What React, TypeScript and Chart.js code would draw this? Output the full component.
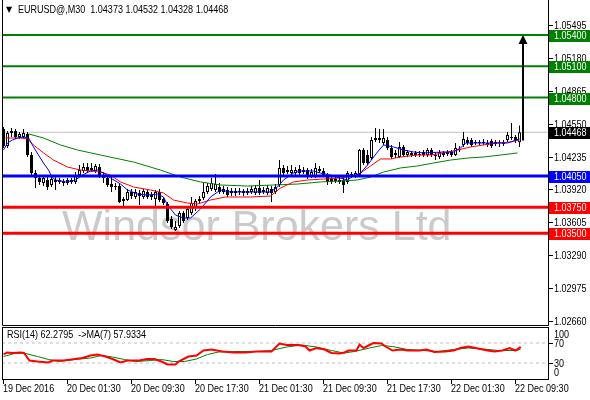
import React, { useEffect, useRef } from 'react';
import { Chart, registerables } from 'chart.js';

Chart.register(...registerables);

const symbolName = 'EURUSD@';
const periodName = 'M30';
const watermarkText = 'Windsor Brokers Ltd';

const xTickBars = [0, 16, 32, 48, 64, 80, 96, 112, 128];
const xTickLabels = ['19 Dec 2016', '20 Dec 01:30', '20 Dec 09:30', '20 Dec 17:30', '21 Dec 01:30', '21 Dec 09:30', '21 Dec 17:30', '22 Dec 01:30', '22 Dec 09:30'];

const priceTicks = [1.05495, 1.0518, 1.04865, 1.0455, 1.04235, 1.0392, 1.03605, 1.0329, 1.02975, 1.0266];
const priceMin = 1.02622;
const priceMax = 1.05706;

const opens = [
  1.04499, 1.04337, 1.04461, 1.0448, 1.04423, 1.04423, 1.04452, 1.0425, 1.04077, 1.0403,
  1.03982, 1.04011, 1.03963, 1.04011, 1.03992, 1.04001, 1.03982, 1.04011, 1.03992, 1.04058,
  1.04097, 1.04135, 1.04106, 1.04097, 1.04135, 1.04049, 1.0403, 1.03972, 1.03944, 1.03953,
  1.0381, 1.03819, 1.03896, 1.03848, 1.03886, 1.03848, 1.03896, 1.03848, 1.03829, 1.03896,
  1.03829, 1.03781, 1.03637, 1.03532, 1.0357, 1.03695, 1.03647, 1.03695, 1.03743, 1.0381,
  1.03838, 1.03896, 1.03924, 1.03915, 1.03944, 1.03896, 1.03915, 1.03886, 1.03905, 1.03896,
  1.03905, 1.03886, 1.03896, 1.03886, 1.03934, 1.03896, 1.03886, 1.03924, 1.03896, 1.03963,
  1.04126, 1.04087, 1.04077, 1.04077, 1.04116, 1.04087, 1.04106, 1.04039, 1.04039, 1.04116,
  1.04097, 1.04058, 1.0403, 1.04001, 1.04011, 1.04011, 1.03992, 1.04068, 1.04049, 1.04058,
  1.04298, 1.0425, 1.04221, 1.04394, 1.04413, 1.04365, 1.04394, 1.04317, 1.0427, 1.04231,
  1.04327, 1.0425, 1.0427, 1.0425, 1.0426, 1.04279, 1.0425, 1.04298, 1.0425, 1.04231,
  1.0427, 1.0426, 1.04279, 1.0425, 1.04308, 1.04346, 1.04394, 1.04394, 1.04365, 1.04375,
  1.04365, 1.04365, 1.04385, 1.04356, 1.04375, 1.04365, 1.04394, 1.04423, 1.04423, 1.04373,
];
const highs = [
  1.04519, 1.0448, 1.04509, 1.04499, 1.04471, 1.04499, 1.04471, 1.04279, 1.04106, 1.04058,
  1.04049, 1.04039, 1.04058, 1.04039, 1.0403, 1.0402, 1.0403, 1.0403, 1.04087, 1.04154,
  1.04173, 1.04173, 1.04173, 1.04164, 1.04164, 1.04087, 1.04049, 1.04039, 1.03982, 1.03972,
  1.03848, 1.03924, 1.03924, 1.03924, 1.03915, 1.03924, 1.03915, 1.03896, 1.03915, 1.03924,
  1.03848, 1.038, 1.03666, 1.03618, 1.03714, 1.03714, 1.03752, 1.03848, 1.03829, 1.03857,
  1.03982, 1.03982, 1.0403, 1.04068, 1.03982, 1.03953, 1.03944, 1.03934, 1.03934, 1.03934,
  1.03924, 1.03934, 1.03953, 1.03963, 1.04011, 1.03944, 1.03963, 1.03953, 1.03972, 1.04202,
  1.04154, 1.04145, 1.04154, 1.04135, 1.04154, 1.04135, 1.04126, 1.04116, 1.04173, 1.04145,
  1.04126, 1.04077, 1.04058, 1.04039, 1.0403, 1.0403, 1.04097, 1.04087, 1.04097, 1.04308,
  1.04317, 1.04298, 1.04423, 1.04509, 1.04499, 1.04499, 1.04423, 1.04346, 1.04298, 1.04375,
  1.04346, 1.04298, 1.04289, 1.04289, 1.04289, 1.04298, 1.04317, 1.04317, 1.04279, 1.04298,
  1.04289, 1.04298, 1.04298, 1.04365, 1.04337, 1.04471, 1.04423, 1.04413, 1.04394, 1.04394,
  1.04404, 1.04394, 1.04404, 1.04394, 1.04394, 1.04394, 1.04471, 1.04557, 1.04442, 1.04532,
];
const lows = [
  1.04317, 1.04317, 1.04423, 1.04404, 1.04404, 1.04413, 1.04231, 1.04058, 1.03934, 1.03963,
  1.03953, 1.03915, 1.03944, 1.03915, 1.03972, 1.03953, 1.03963, 1.03972, 1.03972, 1.04039,
  1.04077, 1.04077, 1.04087, 1.04077, 1.0403, 1.03982, 1.03944, 1.03896, 1.03915, 1.0379,
  1.03752, 1.0381, 1.03829, 1.03829, 1.03771, 1.03829, 1.03829, 1.03819, 1.03743, 1.038,
  1.03771, 1.03599, 1.03541, 1.03522, 1.03551, 1.03599, 1.03627, 1.03675, 1.03714, 1.03781,
  1.03819, 1.03876, 1.03905, 1.03896, 1.03876, 1.03876, 1.03848, 1.03857, 1.03857, 1.03867,
  1.03857, 1.03867, 1.03876, 1.03867, 1.03867, 1.03876, 1.03867, 1.038, 1.03876, 1.03944,
  1.04058, 1.04068, 1.04058, 1.04058, 1.04058, 1.04068, 1.0402, 1.0403, 1.0403, 1.04077,
  1.04039, 1.03963, 1.03972, 1.03982, 1.03972, 1.03886, 1.03972, 1.0403, 1.0403, 1.04049,
  1.04154, 1.04154, 1.04202, 1.04375, 1.04365, 1.04346, 1.04298, 1.04212, 1.04221, 1.04221,
  1.04231, 1.04231, 1.04231, 1.04231, 1.04231, 1.04231, 1.04231, 1.04231, 1.04202, 1.04212,
  1.04231, 1.04241, 1.04231, 1.04241, 1.04279, 1.04327, 1.04346, 1.04327, 1.04346, 1.04346,
  1.04346, 1.04327, 1.04317, 1.04337, 1.04327, 1.04337, 1.04375, 1.04394, 1.04365, 1.04328,
];
const closes = [
  1.04337, 1.04461, 1.0448, 1.04423, 1.04452, 1.04461, 1.0425, 1.04077, 1.0403, 1.03992,
  1.0403, 1.03944, 1.0402, 1.03992, 1.04011, 1.03982, 1.04011, 1.03992, 1.04058, 1.04106,
  1.04135, 1.04097, 1.04126, 1.04145, 1.04039, 1.0403, 1.03963, 1.03944, 1.03953, 1.038,
  1.03829, 1.03896, 1.03857, 1.03896, 1.03857, 1.03905, 1.03848, 1.03867, 1.03896, 1.03819,
  1.0379, 1.03618, 1.0356, 1.0356, 1.03695, 1.03618, 1.03733, 1.0379, 1.0381, 1.03829,
  1.03896, 1.03953, 1.03982, 1.03972, 1.03896, 1.03924, 1.03867, 1.03905, 1.03886, 1.03905,
  1.03886, 1.03905, 1.03924, 1.03934, 1.03886, 1.03915, 1.03934, 1.03886, 1.03944, 1.04126,
  1.04077, 1.04106, 1.04106, 1.04106, 1.04077, 1.04106, 1.04039, 1.04087, 1.04126, 1.04097,
  1.04058, 1.03992, 1.03992, 1.0402, 1.03992, 1.03963, 1.04077, 1.04049, 1.04077, 1.04298,
  1.04173, 1.04173, 1.04394, 1.04413, 1.04394, 1.04413, 1.04317, 1.04231, 1.0425, 1.04327,
  1.0425, 1.04279, 1.0425, 1.0427, 1.0425, 1.0425, 1.04298, 1.0425, 1.04241, 1.04279,
  1.0425, 1.04279, 1.0425, 1.04317, 1.04298, 1.04404, 1.04365, 1.04346, 1.04375, 1.04365,
  1.04375, 1.04346, 1.04337, 1.04375, 1.04365, 1.04356, 1.04442, 1.04413, 1.04394, 1.04468,
];

// moving averages: [bar, price]
const maFast: [number, number][] = [
  [0, 1.04298], [1, 1.04365], [2.25, 1.04394], [3.5, 1.04413], [5, 1.04423], [6.25, 1.04413], [7.5, 1.04327],
  [8.75, 1.0425], [10, 1.04173], [11.25, 1.04106], [12.25, 1.0403], [13, 1.04011], [15.5, 1.03992], [18, 1.04011],
  [19.75, 1.04058], [21.75, 1.04097], [23.5, 1.04106], [25, 1.04077], [26.75, 1.0403], [29.25, 1.03972],
  [31, 1.03915], [33.5, 1.03876], [36, 1.03867], [38.5, 1.03876], [40, 1.03848], [41, 1.03771], [43, 1.03675],
  [45, 1.03647], [46.75, 1.03647], [49.25, 1.03733], [51.75, 1.03848], [54.25, 1.03915], [56.75, 1.03896],
  [65, 1.03896], [66.75, 1.03896], [68.5, 1.03944], [70, 1.04011], [72.5, 1.04077], [74.25, 1.04097],
  [77.5, 1.04097], [79.25, 1.04077], [81.75, 1.04058], [84.25, 1.0403], [86, 1.04011], [87.5, 1.04049],
  [89.25, 1.04077], [91, 1.04154], [93.5, 1.04279], [95, 1.04346], [97.5, 1.04327], [100, 1.04298],
  [102.5, 1.04279], [105, 1.0427], [110, 1.04279], [112.5, 1.04279], [114.25, 1.04317], [115.5, 1.04365],
  [121.75, 1.04365], [126, 1.04365], [129, 1.04404],
];
const maMedium: [number, number][] = [
  [0.5, 1.04413], [4.25, 1.04413], [6, 1.04404], [7.5, 1.04346], [10, 1.0427], [12.5, 1.04202], [16, 1.04135],
  [19.25, 1.04106], [24.25, 1.04087], [26.75, 1.04058], [29.25, 1.03992], [32.5, 1.03944], [36.75, 1.03915],
  [40, 1.03886], [42.5, 1.03819], [46, 1.0379], [48.5, 1.03781], [51.75, 1.03819], [55.5, 1.03848],
  [61.75, 1.03848], [66.75, 1.03857], [69.25, 1.03934], [72.5, 1.03992], [76, 1.04011], [80, 1.0402],
  [84.25, 1.0403], [87.5, 1.04049], [89.25, 1.04077], [91.75, 1.04145], [94.25, 1.04212], [96.75, 1.04212],
  [99.25, 1.04231], [103.5, 1.0425], [106.75, 1.0425], [110, 1.0427], [113.5, 1.04298], [116.75, 1.04327],
  [120, 1.04346], [123.5, 1.04365], [126.75, 1.04375], [129, 1.04394],
];
const maSlow: [number, number][] = [
  [6.25, 1.04452], [10, 1.04413], [14.25, 1.04346], [18.5, 1.04298], [24.25, 1.0425], [32.5, 1.04183],
  [39.25, 1.04106], [44.25, 1.04039], [49.25, 1.03992], [54.25, 1.03963], [61, 1.03953], [67.5, 1.03963],
  [73.5, 1.03972], [79.25, 1.03992], [84.25, 1.04001], [88.5, 1.04011], [91.75, 1.04039], [95, 1.04087],
  [99.25, 1.04126], [103.5, 1.04145], [107.5, 1.04173], [111.75, 1.04202], [116, 1.04221], [120, 1.04231],
  [124.25, 1.0425], [128.5, 1.0427],
];

const levelPrices = [1.054, 1.051, 1.048, 1.0405, 1.0375, 1.035];
const levelColors = ['#008000', '#008000', '#008000', '#0000ff', '#ff0000', '#ff0000'];
const levelWidths = [2, 2, 2, 3, 3, 3];
const bidPrice = 1.04468;

const arrowBar = 129.8;
const arrowFromPrice = 1.0439;
const arrowToPrice = 1.054;

const rsiCurrent = 62.2795;
const rsiMaCurrent = 57.9334;
const rsiLevels = [70, 30];
const rsiAxisLabels = [100, 70, 30, 0];
const rsiLine: [number, number][] = [
  [0, 47], [0.9, 51], [2.25, 50], [4.25, 51], [5.1, 50], [6.5, 35], [8.5, 33], [11.25, 31], [12.25, 35],
  [15, 35], [17, 37], [19.75, 40], [21.75, 45], [23.5, 47], [25.5, 43], [27.25, 38], [29.25, 31], [31, 35],
  [34, 35], [35.75, 38], [37.75, 38], [39.5, 33], [41, 27], [43, 27], [43.75, 33], [46.25, 43], [48.25, 45],
  [50, 55], [52, 57], [54.75, 53], [57.5, 51], [60.5, 51], [63.25, 53], [67, 53], [69, 69], [70.75, 66],
  [73.75, 66], [75.5, 63], [76.5, 55], [78.25, 60], [80.25, 57], [82, 50], [84, 49], [85.25, 51], [86.25, 55],
  [88.25, 55], [89, 67], [90, 60], [92.5, 70], [94.5, 69], [95.5, 63], [97.25, 55], [99.25, 57], [101, 55],
  [104, 55], [105.75, 57], [107.75, 52], [110.5, 53], [112.5, 55], [114.25, 60], [116.25, 63], [118, 60],
  [121, 55], [122.75, 53], [124.75, 55], [126.5, 60], [128, 55], [129.3, rsiCurrent],
];
const rsiMaLine: [number, number][] = [
  [0, 43], [2.75, 49], [5.1, 50], [8.5, 43], [11.25, 37], [14, 33], [17.75, 37], [21.75, 40], [24.5, 45],
  [27.25, 42], [30.25, 37], [33, 33], [36.75, 35], [39.5, 37], [42.5, 33], [45.25, 33], [48.25, 38], [51, 47],
  [53.75, 52], [57.5, 53], [63.25, 53], [67, 55], [70.75, 62], [74.5, 66], [78.25, 62], [82, 55], [85, 50],
  [87.75, 53], [91.5, 60], [94.5, 65], [97.25, 63], [101, 57], [104.75, 55], [108.5, 53], [112.5, 57],
  [116.25, 60], [120, 58], [123.75, 55], [128.5, 55], [129.3, rsiMaCurrent],
];

const X_MIN = -0.375;
const X_MAX = 136.125;
const FONT = '11px "Liberation Sans", Arial, sans-serif';
const NARROW = 0.82;

const toPts = (arr: [number, number][]) => arr.map(([x, y]) => ({ x, y }));

function narrowText(ctx: CanvasRenderingContext2D, text: string, x: number, y: number) {
  ctx.save();
  ctx.translate(x, y);
  ctx.scale(NARROW, 1);
  ctx.fillText(text, 0, 0);
  ctx.restore();
}

export default function App() {
  const mainRef = useRef<HTMLCanvasElement>(null);
  const rsiRef = useRef<HTMLCanvasElement>(null);

  useEffect(() => {
    const bars = opens.map((_, i) => i);
    const wickData = bars.map((i) => ({ x: i, y: [lows[i], highs[i]] }));
    const bodyData = bars.map((i) => ({ x: i, y: [opens[i], closes[i]] }));
    const bodyColors = bars.map((i) => (closes[i] >= opens[i] ? '#ffffff' : '#000000'));
    const last = opens.length - 1;

    const mainPlugin = {
      id: 'mt4Main',
      beforeDatasetsDraw(chart: any) {
        const { ctx } = chart;
        ctx.save();
        ctx.font = '43px "Liberation Sans", Arial, sans-serif';
        ctx.fillStyle = '#cacaca';
        ctx.textAlign = 'left';
        ctx.textBaseline = 'alphabetic';
        ctx.fillText(watermarkText, 62, 240);
        ctx.restore();
      },
      afterDatasetsDraw(chart: any) {
        const { ctx, chartArea, scales } = chart;
        const xs = scales.x;
        const ys = scales.y;
        ctx.save();
        // arrow
        const ax = Math.round(xs.getPixelForValue(arrowBar));
        const y0 = ys.getPixelForValue(arrowFromPrice);
        const y1 = ys.getPixelForValue(arrowToPrice);
        ctx.strokeStyle = '#000';
        ctx.lineWidth = 2;
        ctx.beginPath();
        ctx.moveTo(ax, y0);
        ctx.lineTo(ax, y1 + 8);
        ctx.stroke();
        ctx.fillStyle = '#000';
        ctx.beginPath();
        ctx.moveTo(ax, y1);
        ctx.lineTo(ax - 4.5, y1 + 9);
        ctx.lineTo(ax + 4.5, y1 + 9);
        ctx.closePath();
        ctx.fill();
        // frame
        ctx.lineWidth = 1;
        ctx.beginPath();
        ctx.moveTo(chartArea.left + 0.5, 0);
        ctx.lineTo(chartArea.left + 0.5, chartArea.bottom + 0.5);
        ctx.lineTo(chartArea.right + 0.5, chartArea.bottom + 0.5);
        ctx.lineTo(chartArea.right + 0.5, 0);
        ctx.stroke();
        // price ticks
        ctx.font = FONT;
        ctx.textAlign = 'left';
        ctx.textBaseline = 'middle';
        priceTicks.forEach((v) => {
          const y = Math.round(ys.getPixelForValue(v)) + 0.5;
          ctx.strokeStyle = '#000';
          ctx.beginPath();
          ctx.moveTo(chartArea.right + 1, y);
          ctx.lineTo(chartArea.right + 5, y);
          ctx.stroke();
          ctx.fillStyle = '#000';
          narrowText(ctx, v.toFixed(5), chartArea.right + 6, y);
        });
        // level labels
        const boxes = [{ p: bidPrice, c: '#000000' }, ...levelPrices.map((p, i) => ({ p, c: levelColors[i] }))];
        boxes.forEach((b) => {
          const y = Math.round(ys.getPixelForValue(b.p));
          ctx.fillStyle = b.c;
          ctx.fillRect(chartArea.right + 1, y - 5, chart.width - chartArea.right - 1, 12);
          ctx.fillStyle = '#ffffff';
          narrowText(ctx, b.p.toFixed(5), chartArea.right + 6, y + 1);
        });
        // title
        ctx.fillStyle = '#000';
        ctx.font = '8px "DejaVu Sans", sans-serif';
        ctx.fillText('\u25BC', chartArea.left + 4, 10);
        ctx.font = FONT;
        const title = `${symbolName},${periodName}  ${opens[last].toFixed(5)} ${highs[last].toFixed(5)} ${lows[last].toFixed(5)} ${closes[last].toFixed(5)}`;
        narrowText(ctx, title, chartArea.left + 16, 10);
        ctx.restore();
      },
    };

    const levelDatasets = levelPrices.map((p, i) => ({
      type: 'line' as const,
      data: [{ x: X_MIN, y: p }, { x: X_MAX, y: p }],
      borderColor: levelColors[i],
      borderWidth: levelWidths[i],
      pointRadius: 0,
      order: 1,
    }));

    const mainChart = new Chart(mainRef.current!, {
      type: 'bar',
      data: {
        datasets: [
          ...levelDatasets,
          { type: 'line', data: toPts(maFast), borderColor: '#0000ff', borderWidth: 1, pointRadius: 0, order: 2 },
          { type: 'line', data: toPts(maMedium), borderColor: '#ff0000', borderWidth: 1, pointRadius: 0, order: 3 },
          { type: 'line', data: toPts(maSlow), borderColor: '#008000', borderWidth: 1, pointRadius: 0, order: 4 },
          {
            type: 'bar', data: bodyData as any, backgroundColor: bodyColors, borderColor: '#000000', borderWidth: 1,
            borderSkipped: false, barThickness: 3, grouped: false, minBarLength: 1, inflateAmount: 0, order: 5,
          } as any,
          {
            type: 'bar', data: wickData as any, backgroundColor: '#000000', borderWidth: 0,
            barThickness: 1, grouped: false, inflateAmount: 0, order: 6,
          } as any,
          {
            type: 'line', data: [{ x: X_MIN, y: bidPrice }, { x: X_MAX, y: bidPrice }], borderColor: '#c0c0c0',
            borderWidth: 1, pointRadius: 0, order: 7,
          },
        ] as any,
      },
      options: {
        responsive: false,
        animation: false,
        events: [],
        layout: { padding: { left: 2, right: 42, top: 3, bottom: 5 } },
        plugins: { legend: { display: false }, tooltip: { enabled: false } },
        scales: {
          x: { type: 'linear', min: X_MIN, max: X_MAX, display: false, offset: false },
          y: { type: 'linear', min: priceMin, max: priceMax, display: false },
        },
      },
      plugins: [mainPlugin],
    });

    const rsiPlugin = {
      id: 'mt4Rsi',
      afterDatasetsDraw(chart: any) {
        const { ctx, chartArea, scales } = chart;
        const xs = scales.x;
        const ys = scales.y;
        ctx.save();
        ctx.strokeStyle = '#000';
        ctx.lineWidth = 1;
        ctx.strokeRect(chartArea.left + 0.5, chartArea.top + 0.5, chartArea.right - chartArea.left, chartArea.bottom - chartArea.top);
        ctx.font = FONT;
        ctx.fillStyle = '#000';
        ctx.textBaseline = 'middle';
        ctx.textAlign = 'left';
        narrowText(ctx, `RSI(14) ${rsiCurrent.toFixed(4)}  ->MA(7) ${rsiMaCurrent.toFixed(4)}`, chartArea.left + 5, chartArea.top + 8);
        rsiAxisLabels.forEach((v) => {
          let y = ys.getPixelForValue(v);
          y = Math.min(Math.max(y, chartArea.top + 7), chartArea.bottom - 7);
          narrowText(ctx, String(v), chartArea.right + 6, Math.round(y) + 0.5);
        });
        rsiLevels.forEach((v) => {
          const y = Math.round(ys.getPixelForValue(v)) + 0.5;
          ctx.beginPath();
          ctx.moveTo(chartArea.right + 1, y);
          ctx.lineTo(chartArea.right + 5, y);
          ctx.stroke();
        });
        xTickBars.forEach((b, i) => {
          const x = Math.floor(xs.getPixelForValue(b)) + 0.5;
          ctx.beginPath();
          ctx.moveTo(x, chartArea.bottom + 1);
          ctx.lineTo(x, chartArea.bottom + 5);
          ctx.stroke();
          narrowText(ctx, xTickLabels[i], x - 0.5, chartArea.bottom + 10);
        });
        ctx.restore();
      },
    };

    const rsiChart = new Chart(rsiRef.current!, {
      type: 'line',
      data: {
        datasets: [
          { data: toPts(rsiLine), borderColor: '#ff0000', borderWidth: 2, pointRadius: 0, order: 1 },
          { data: toPts(rsiMaLine), borderColor: '#008000', borderWidth: 1, pointRadius: 0, order: 2 },
          ...rsiLevels.map((v) => ({
            data: [{ x: X_MIN, y: v }, { x: X_MAX, y: v }], borderColor: '#c0c0c0', borderWidth: 1,
            borderDash: [3, 3], pointRadius: 0, order: 3,
          })),
        ] as any,
      },
      options: {
        responsive: false,
        animation: false,
        events: [],
        layout: { padding: { left: 2, right: 42, top: 1, bottom: 21 } },
        plugins: { legend: { display: false }, tooltip: { enabled: false } },
        scales: {
          x: { type: 'linear', min: X_MIN, max: X_MAX, display: false },
          y: { type: 'linear', min: -2, max: 102, display: false },
        },
      },
      plugins: [rsiPlugin],
    });

    return () => {
      mainChart.destroy();
      rsiChart.destroy();
    };
  }, []);

  return (
    <div style={{ position: 'absolute', left: 0, top: 0, width: 590, height: 400, background: '#ffffff' }}>
      <canvas ref={mainRef} width={590} height={330} style={{ position: 'absolute', left: 0, top: 0 }} />
      <canvas ref={rsiRef} width={590} height={74} style={{ position: 'absolute', left: 0, top: 326 }} />
    </div>
  );
}
